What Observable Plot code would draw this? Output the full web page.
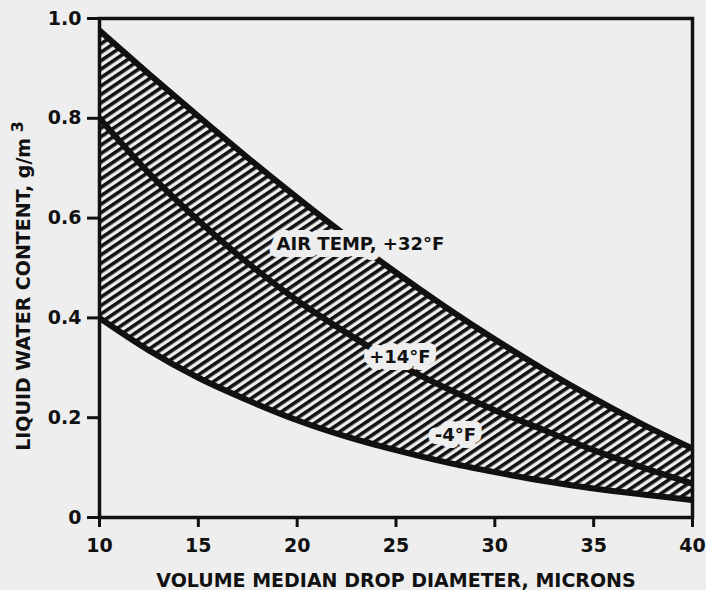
<!DOCTYPE html>
<html><head><meta charset="utf-8">
<script src="https://cdn.jsdelivr.net/npm/d3@7"></script>
<script src="https://cdn.jsdelivr.net/npm/@observablehq/plot@0.6"></script>
<style>
html,body{margin:0;padding:0;background:#eeeeee;}
#chart svg{display:block;}
</style></head><body><div id="chart"></div>
<script>
const diameter  = [10, 12.5, 15, 17.5, 20, 22.5, 25, 27.5, 30, 32.5, 35, 37.5, 40];
const lwcPlus32 = [0.976, 0.889, 0.804, 0.721, 0.641, 0.564, 0.491, 0.422, 0.357, 0.296, 0.239, 0.186, 0.138];
const lwcPlus14 = [0.800, 0.690, 0.595, 0.510, 0.435, 0.370, 0.310, 0.260, 0.215, 0.175, 0.135, 0.100, 0.068];
const lwcMinus4 = [0.400, 0.335, 0.280, 0.235, 0.195, 0.162, 0.135, 0.111, 0.091, 0.073, 0.058, 0.046, 0.035];
const xTicks = [10, 15, 20, 25, 30, 35, 40];
const yTicks = [0, 0.2, 0.4, 0.6, 0.8, 1.0];
const yTickLabels = ["0", "0.2", "0.4", "0.6", "0.8", "1.0"];
const curveLabels = ["AIR TEMP, +32°F", "+14°F", "-4°F"];
const labelX = [23.2, 25.2, 28.0];
const labelY = [0.547, 0.321, 0.164];
const xTitle = "VOLUME MEDIAN DROP DIAMETER, MICRONS";
const yTitleBase = "LIQUID WATER CONTENT, g/m";
const yTitleSup = "3";

const rows = diameter.map((d, i) => ({d, t32: lwcPlus32[i], t14: lwcPlus14[i], tm4: lwcMinus4[i]}));
const labels = curveLabels.map((text, i) => ({text, x: labelX[i], y: labelY[i]}));
const BG = "#eeeeee";
const INK = "#111111";
const curve = "monotone-x";

const plot = Plot.plot({
  width: 706,
  height: 590,
  marginLeft: 99,
  marginRight: 14,
  marginTop: 18,
  marginBottom: 73,
  style: {background: BG, color: INK, fontFamily: "'DejaVu Sans', sans-serif", fontWeight: "bold", fontSize: "19px"},
  x: {domain: [10, 40]},
  y: {domain: [0, 1]},
  marks: [
    Plot.areaY(rows, {x: "d", y1: "tm4", y2: "t32", fill: "url(#hatch)", curve}),
    Plot.line(rows, {x: "d", y: "t32", stroke: INK, strokeWidth: 6, curve, clip: true}),
    Plot.line(rows, {x: "d", y: "t14", stroke: INK, strokeWidth: 6, curve, clip: true}),
    Plot.line(rows, {x: "d", y: "tm4", stroke: INK, strokeWidth: 6, curve, clip: true}),
    Plot.text(labels, {x: "x", y: "y", text: "text", fill: INK, stroke: BG, strokeWidth: 14, strokeLinejoin: "round", fontSize: 18}),
    Plot.frame({stroke: INK, strokeWidth: 3.5}),
    Plot.axisX({ticks: xTicks, tickSize: 10, tickPadding: 11, strokeWidth: 3, label: xTitle, labelArrow: "none", labelAnchor: "center", labelOffset: 69}),
    Plot.axisY({ticks: yTicks, tickFormat: d => yTickLabels[yTicks.indexOf(d)], tickSize: 12, tickPadding: 6, strokeWidth: 3, label: null}),
    Plot.text([yTitleBase], {frameAnchor: "left", text: d => d, rotate: -90, dx: -76, dy: 18, textAnchor: "middle", lineAnchor: "middle", fill: INK})
  ]
});

// raise the "3" of g/m3 as a superscript
d3.select(plot).selectAll("text").filter(function() { return this.textContent === yTitleBase; })
  .each(function() {
    d3.select(this).append("tspan").attr("dx", "0.35em").attr("dy", "-0.4em").attr("font-size", "16px").text(yTitleSup);
  });

const defs = d3.create("svg:defs");
const pat = defs.append("pattern")
  .attr("id", "hatch")
  .attr("patternUnits", "userSpaceOnUse")
  .attr("width", 7).attr("height", 7)
  .attr("patternTransform", "rotate(-34)");
pat.append("rect").attr("width", 7).attr("height", 3.6).attr("fill", INK);
plot.insertBefore(defs.node(), plot.firstChild);

document.getElementById("chart").appendChild(plot);
</script>
</body></html>
